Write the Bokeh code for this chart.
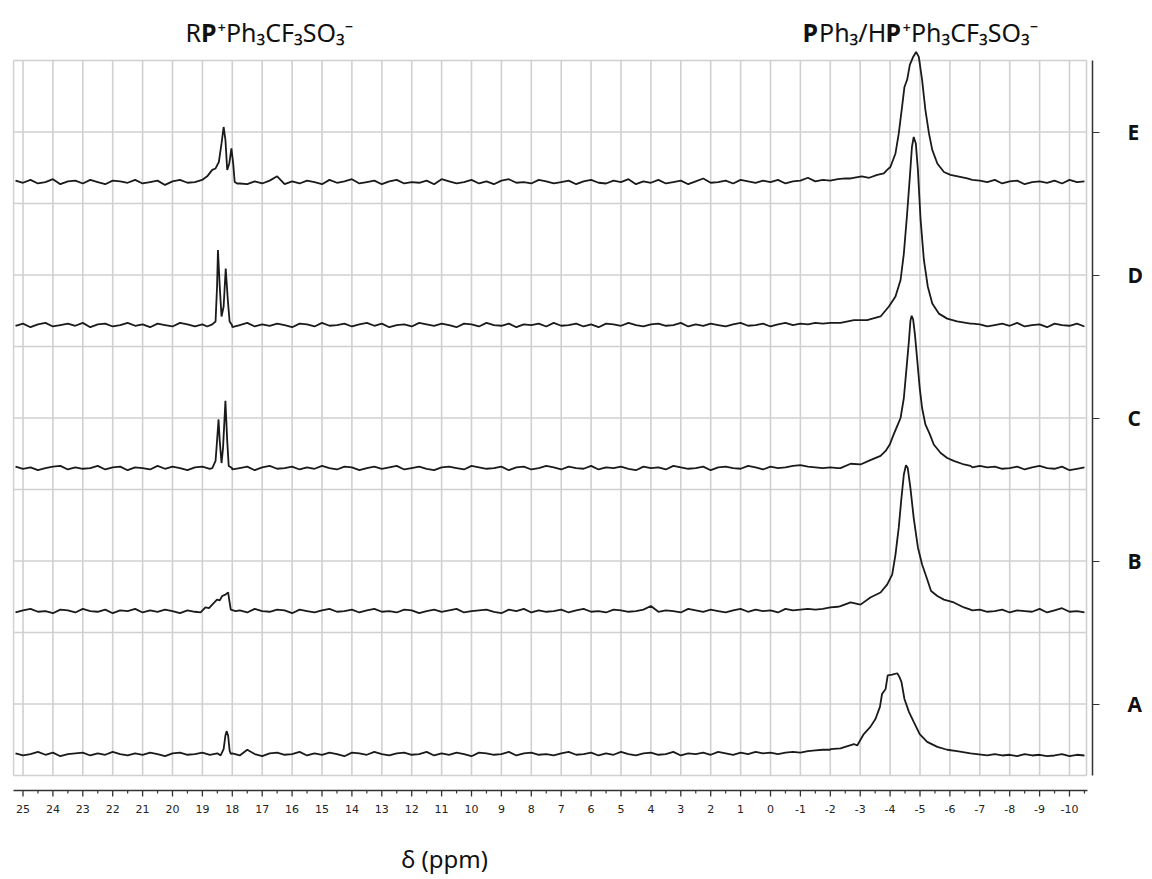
from bokeh.plotting import figure
from bokeh.models import Range1d, Label, FixedTicker
from bokeh.core.properties import value
from bokeh.embed import file_html
from bokeh.resources import INLINE

# ---------------- data (chemical shift in ppm, intensity in 1/100 of a grid step) -------------
SPECTRA = ["A", "B", "C", "D", "E"]

GRID_PPM = [
    25.25, 25.0, 24.75, 24.5, 24.25, 24.0, 23.75, 23.5, 23.25, 23.0, 22.75, 22.5,
    22.25, 22.0, 21.75, 21.5, 21.25, 21.0, 20.75, 20.5, 20.25, 20.0, 19.75, 19.5,
    19.25, 19.0, 18.75, 18.5, 18.25, 18.0, 17.75, 17.5, 17.25, 17.0, 16.75, 16.5,
    16.25, 16.0, 15.75, 15.5, 15.25, 15.0, 14.75, 14.5, 14.25, 14.0, 13.75, 13.5,
    13.25, 13.0, 12.75, 12.5, 12.25, 12.0, 11.75, 11.5, 11.25, 11.0, 10.75, 10.5,
    10.25, 10.0, 9.75, 9.5, 9.25, 9.0, 8.75, 8.5, 8.25, 8.0, 7.75, 7.5,
    7.25, 7.0, 6.75, 6.5, 6.25, 6.0, 5.75, 5.5, 5.25, 5.0, 4.75, 4.5,
    4.25, 4.0, 3.75, 3.5, 3.25, 3.0, 2.75, 2.5, 2.25, 2.0, 1.75, 1.5,
    1.25, 1.0, 0.75, 0.5, 0.25, 0.0, -0.25, -0.5, -0.75, -1.0, -1.25, -1.5,
    -1.75, -2.0, -2.25, -2.5, -2.75, -3.0, -3.25, -3.5, -3.75, -4.0, -4.25, -4.5,
    -4.75, -5.0, -5.25, -5.5, -5.75, -6.0, -6.25, -6.5, -6.75, -7.0, -7.25, -7.5,
    -7.75, -8.0, -8.25, -8.5, -8.75, -9.0, -9.25, -9.5, -9.75, -10.0, -10.25, -10.5,
]

E_NOISE = [
    2, -1, 3, -2, 0, 4, -3, 1, 2, -2, 3, 0,
    -3, 2, 1, -1, 3, -2, 0, 2, -4, 1, 3, -1,
    0, 1, 3, 6, 0, 0, -2, -3, 1, -2, 2, 8,
    -3, 1, -2, 2, 0, -3, 3, -1, 1, 4, -2, 0,
    2, -3, 1, 3, -2, 0, -1, 2, -3, 4, 1, -2,
    0, 3, -2, 1, -3, 2, 4, -1, 0, -2, 3, 1,
    -2, 0, 2, -3, 1, 3, -1, -2, 2, 0, 4, -3,
    1, -1, 3, -2, 0, 2, -3, 1, 5, -1, 0, 2,
    -2, 3, 1, -1, 2, 0, 3, -2, 1, 2, 6, 1,
    3, 2, 4, 5, 0, 0, 0, 0, 0, 0, 0, 0,
    0, 0, 0, 0, 0, 0, 0, 0, 3, 2, 0, 3,
    -2, 1, 2, -3, 0, 1, -1, 2, -2, 3, 0, 1,
]
D_NOISE = [
    -1, 2, -3, 1, 3, -2, 0, 2, -1, 3, -3, 1,
    2, -2, 0, 3, -1, 1, -3, 2, 0, -2, 3, 1,
    -2, 1, -1, 0, 2, -3, 0, 3, -2, 1, -1, 2,
    0, -3, 2, 1, -2, 3, -1, 0, 2, -2, 1, 3,
    -1, 2, -3, 0, 1, -2, 3, 1, -1, 2, 0, -3,
    2, 1, -2, 3, 0, -1, 2, -3, 1, 0, 2, -2,
    3, -1, 0, 2, -2, 1, -3, 2, 1, -1, 3, 0,
    -2, 1, 2, -1, 0, 3, -2, 1, -1, 2, 0, -2,
    1, 3, -1, 0, 2, -2, 1, 3, 0, 2, 1, 3,
    2, 3, 3, 0, 0, 0, 0, 0, 0, 0, 0, 0,
    0, 0, 0, 0, 0, 0, 0, 0, 2, 1, -2, 0,
    2, -1, 3, -2, 0, 1, -3, 2, 0, -1, 2, -2,
]
C_NOISE = [
    2, -1, 1, -3, 0, 2, 3, -2, 1, -1, 0, 3,
    -2, 1, 2, -3, 1, 0, -2, 3, -1, 2, 0, -3,
    1, 2, -1, 0, 1, -2, 0, 2, -3, 1, 3, -1,
    0, 2, -2, 1, -1, 3, 0, -2, 2, 1, -3, 0,
    2, -1, 1, 3, -2, 0, 2, -1, -3, 1, 2, 0,
    -2, 3, 1, -1, 0, 2, -3, 1, 2, -2, 0, 3,
    1, -2, 2, 0, -1, 3, -2, 1, 0, 2, -1, -3,
    2, 0, 1, -2, 3, 1, -1, 0, 2, -3, 1, 2,
    0, -1, 3, 1, -2, 2, 0, 1, 3, 4, 2, 1,
    0, 1, 0, 0, 0, 0, 0, 0, 0, 0, 0, 0,
    0, 0, 0, 0, 0, 0, 0, 0, 1, 3, 1, 2,
    -1, 0, 2, -2, 1, 3, 0, -1, 2, -3, -1, 1,
]
B_NOISE = [
    -2, 1, 3, -1, 0, -3, 2, 1, -2, 3, 0, -1,
    2, -3, 1, 0, 3, -2, 1, -1, 2, 0, -3, 1,
    -1, 0, 0, 0, 0, 0, 1, -2, 3, 0, -1, 2,
    1, -3, 2, 0, -2, 1, 3, -1, 0, 2, -2, 1,
    3, -1, 0, -2, 2, 1, -3, 0, 2, -1, 1, 3,
    -2, 0, 1, 2, -1, -3, 2, 0, 3, -2, 1, -1,
    0, 2, -2, 1, 3, -1, 0, -2, 2, 1, -1, 0,
    2, 7, -1, 1, 0, -2, 3, 1, -1, 2, 0, -2,
    1, 3, -1, 2, 0, 1, -2, 3, 1, 2, 3, 2,
    3, 5, 6, 0, 0, 0, 0, 0, 0, 0, 0, 0,
    0, 0, 0, 0, 0, 0, 0, 0, 1, 2, -1, 0,
    2, -2, 1, 0, -1, 3, -2, 1, 4, -1, 0, -2,
]
A_NOISE = [
    1, -2, 0, 3, -1, 2, -3, 0, 1, 2, -2, 1,
    -1, 3, 0, -2, 1, -1, 2, 0, -3, 1, 2, -1,
    0, 2, -1, 1, 0, 1, -2, 6, 0, -3, 1, 2,
    -1, 0, 3, -2, 1, -1, 2, 0, -3, 2, 1, -1,
    3, 0, -2, 1, 2, -1, 0, 3, -2, 1, -1, 2,
    0, -3, 2, 1, -1, 0, 3, -2, 1, 2, -1, 0,
    -2, 1, 3, -1, 0, 2, -2, 1, -1, 3, 0, -2,
    1, 2, -1, 0, 3, -2, 1, 0, 2, -1, 3, 1,
    -1, 2, 0, 3, 1, 2, 0, 2, 3, 2, 4, 5,
    6, 6, 0, 0, 0, 0, 0, 0, 0, 0, 0, 0,
    0, 0, 0, 0, 0, 0, 0, 0, 0, 0, 0, 0,
    -2, -1, -3, 0, -2, -1, -3, -2, 0, -3, -1, -2,
]

# RP+Ph3 signal (~18.3 ppm)
E_SMALL_PPM = [19.01, 18.84, 18.67, 18.56, 18.45, 18.36, 18.29, 18.23, 18.17, 18.10, 18.03, 17.97, 17.92, 17.84]
E_SMALL_VAL = [3, 8, 17, 19, 28, 54, 77, 59, 17, 26, 47, 26, 0, -2]
D_SMALL_PPM = [18.84, 18.67, 18.56, 18.51, 18.48, 18.42, 18.36, 18.29, 18.22, 18.15, 18.09, 18.01]
D_SMALL_VAL = [-2, 1, 5, 54, 105, 54, 12, 26, 79, 35, 5, 0]
C_SMALL_PPM = [18.67, 18.56, 18.51, 18.46, 18.42, 18.36, 18.31, 18.23, 18.17, 18.12, 18.01]
C_SMALL_VAL = [0, 10, 38, 68, 38, 7, 28, 94, 38, 3, 0]
B_SMALL_PPM = [19.06, 18.90, 18.78, 18.67, 18.60, 18.51, 18.42, 18.34, 18.23, 18.14, 18.09, 18.05, 17.89]
B_SMALL_VAL = [-2, 5, 4, 9, 12, 16, 15, 21, 23, 26, 12, 2, 0]
A_SMALL_PPM = [18.39, 18.29, 18.23, 18.19, 18.14, 18.09, 18.05]
A_SMALL_VAL = [-2, 7, 26, 32, 26, 5, 0]

# PPh3 / HP+Ph3 signal (~ -4.7 ppm)
E_BIG_PPM = [-2.68, -3.05, -3.30, -3.57, -3.79, -3.90, -4.01, -4.18, -4.29, -4.40, -4.48, -4.57, -4.66,
             -4.77, -4.87, -4.96, -5.07, -5.18, -5.30, -5.41, -5.58, -5.80, -6.02, -6.58]
E_BIG_VAL = [5, 8, 6, 10, 12, 17, 21, 40, 68, 105, 133, 143, 164,
             175, 182, 175, 143, 101, 68, 45, 26, 14, 10, 5]
D_BIG_PPM = [-2.34, -2.79, -3.23, -3.68, -3.96, -4.18, -4.35, -4.46, -4.57, -4.66, -4.73, -4.79, -4.86,
             -4.93, -5.02, -5.13, -5.26, -5.41, -5.63, -5.91, -6.24, -6.69]
D_BIG_VAL = [3, 7, 7, 12, 26, 40, 63, 100, 156, 207, 249, 263, 254,
             217, 147, 91, 54, 30, 16, 9, 5, 2]
C_BIG_PPM = [-2.34, -2.68, -3.01, -3.34, -3.68, -3.85, -3.99, -4.12, -4.24, -4.35, -4.46, -4.55, -4.63, -4.68,
             -4.72, -4.77, -4.83, -4.91, -4.99, -5.07, -5.18, -5.33, -5.46, -5.69, -5.91, -6.13, -6.47, -6.69]
C_BIG_VAL = [0, 6, 5, 11, 17, 24, 33, 47, 59, 70, 98, 140, 178, 206,
             213, 208, 187, 150, 112, 84, 61, 47, 33, 21, 14, 10, 5, 3]
B_BIG_PPM = [-2.34, -2.68, -3.01, -3.34, -3.68, -3.90, -4.07, -4.18, -4.29, -4.37, -4.46, -4.53, -4.59,
             -4.68, -4.79, -4.93, -5.07, -5.22, -5.37, -5.58, -5.80, -6.13, -6.47, -6.69]
B_BIG_VAL = [7, 12, 9, 19, 26, 37, 51, 79, 117, 154, 191, 204, 200,
             172, 130, 89, 65, 47, 28, 21, 16, 12, 5, 2]
A_BIG_PPM = [-2.01, -2.34, -2.79, -2.90, -3.12, -3.34, -3.51, -3.66, -3.73, -3.85, -3.92, -4.07, -4.24,
             -4.31, -4.38, -4.48, -4.63, -4.79, -4.99, -5.24, -5.58, -5.91, -6.24, -6.69, -7.25]
A_BIG_VAL = [7, 8, 14, 12, 28, 38, 49, 66, 84, 91, 110, 111, 113,
             108, 101, 77, 59, 45, 28, 17, 10, 6, 4, 1, -2]

X_TICK_MIN, X_TICK_MAX = -10, 25
TOP_LABEL_LEFT = "R|P|⁺Ph₃CF₃SO₃⁻"
TOP_LABEL_RIGHT = "P|Ph₃/H|P|⁺Ph₃CF₃SO₃⁻"
X_LABEL = "δ (ppm)"

# ---------------- assemble traces ----------------
NOISE = {"A": A_NOISE, "B": B_NOISE, "C": C_NOISE, "D": D_NOISE, "E": E_NOISE}
PEAKS = {
    "A": [(A_SMALL_PPM, A_SMALL_VAL), (A_BIG_PPM, A_BIG_VAL)],
    "B": [(B_SMALL_PPM, B_SMALL_VAL), (B_BIG_PPM, B_BIG_VAL)],
    "C": [(C_SMALL_PPM, C_SMALL_VAL), (C_BIG_PPM, C_BIG_VAL)],
    "D": [(D_SMALL_PPM, D_SMALL_VAL), (D_BIG_PPM, D_BIG_VAL)],
    "E": [(E_SMALL_PPM, E_SMALL_VAL), (E_BIG_PPM, E_BIG_VAL)],
}


def build(name):
    pts = []
    for ppm, v in zip(GRID_PPM, NOISE[name]):
        if any(min(pp) <= ppm <= max(pp) for pp, _ in PEAKS[name]):
            continue
        pts.append((ppm, v))
    for pp, vv in PEAKS[name]:
        pts += list(zip(pp, vv))
    pts.sort(key=lambda t: -t[0])
    return [t[0] for t in pts], [t[1] for t in pts]


# ---------------- geometry helpers (page pixels -> data) ----------------
PX_PER_PPM = 29.9
PX_ZERO_PPM = 770.0
PX_PER_UNIT = 0.715
PX_ZERO_Y = 775.0


def ppm_at(px):
    return (PX_ZERO_PPM - px) / PX_PER_PPM


def y_at(px):
    return (PX_ZERO_Y - px) / PX_PER_UNIT


FRAME_L, FRAME_R, FRAME_T, FRAME_B = 12, 1092, 0, 876
BOX_LEFT, BOX_RIGHT = ppm_at(13), ppm_at(1086)
STEP = 100
BOX_TOP = 1000

p = figure(
    frame_width=FRAME_R - FRAME_L, frame_height=FRAME_B - FRAME_T,
    x_range=Range1d(ppm_at(FRAME_L), ppm_at(FRAME_R)),
    y_range=Range1d(y_at(FRAME_B), y_at(FRAME_T)),
    output_backend="svg", toolbar_location=None, y_axis_location="right",
    min_border_left=FRAME_L, min_border_top=FRAME_T, min_border_right=52, min_border_bottom=0,
)
p.outline_line_color = None
p.xgrid.visible = False
p.ygrid.visible = False
p.xaxis.visible = False
p.background_fill_color = "white"
p.border_fill_color = "white"

GRID_COLOR = "#d0d0d0"
vx = list(range(X_TICK_MIN, X_TICK_MAX + 1))
p.segment(x0=vx, y0=[0] * len(vx), x1=vx, y1=[BOX_TOP] * len(vx), line_color=GRID_COLOR, line_width=1.6)
hy = list(range(0, BOX_TOP + 1, STEP))
p.segment(x0=[BOX_LEFT] * len(hy), y0=hy, x1=[BOX_RIGHT] * len(hy), y1=hy, line_color=GRID_COLOR, line_width=1.6)
p.segment(x0=[BOX_LEFT, BOX_RIGHT], y0=[0, 0], x1=[BOX_LEFT, BOX_RIGHT], y1=[BOX_TOP, BOX_TOP],
          line_color=GRID_COLOR, line_width=1.6)

for k, name in enumerate(SPECTRA):
    xs, ys = build(name)
    offset = 30 + 2 * STEP * k
    p.line(xs, [y + offset for y in ys], line_color="#1a1a1a", line_width=1.8)

# ---------------- bottom ruler (drawn from the tick list) ----------------
RULER_COLOR = "#333333"
ry = y_at(790)
p.segment(x0=[BOX_LEFT], y0=[ry], x1=[ppm_at(1087)], y1=[ry], line_color=RULER_COLOR, line_width=1.5)
major = list(range(X_TICK_MIN, X_TICK_MAX + 1))
minor = [t + 0.5 for t in range(X_TICK_MIN - 1, X_TICK_MAX)]
p.segment(x0=major, y0=[ry] * len(major), x1=major, y1=[y_at(796)] * len(major),
          line_color=RULER_COLOR, line_width=1.3)
p.segment(x0=minor, y0=[ry] * len(minor), x1=minor, y1=[y_at(793)] * len(minor),
          line_color=RULER_COLOR, line_width=1.2)
p.text(x=major, y=[y_at(808)] * len(major), text=[str(t) for t in major],
       text_font=value("DejaVu Sans"), text_font_size="11px", text_color="#222222",
       text_align="center", text_baseline="middle")

p.add_layout(Label(x=ppm_at(444), y=y_at(858), text=X_LABEL, text_font="Noto Sans",
                   text_font_size="24px", text_color="#111111", text_align="center",
                   text_baseline="middle"))

# ---------------- right axis with spectrum letters ----------------
ya = p.yaxis[0]
ya.ticker = FixedTicker(ticks=[STEP * (2 * k + 1) for k in range(len(SPECTRA))])
ya.major_label_overrides = {STEP * (2 * k + 1): s for k, s in enumerate(SPECTRA)}
ya.bounds = (0, BOX_TOP)
ya.axis_line_color = RULER_COLOR
ya.axis_line_width = 1.5
ya.major_tick_line_color = RULER_COLOR
ya.major_tick_out = 7
ya.major_tick_in = 0
ya.minor_tick_line_color = None
ya.major_label_text_font = "Open Sans"
ya.major_label_text_font_style = "bold"
ya.major_label_text_font_size = "21px"
ya.major_label_text_color = "#111111"
ya.major_label_standoff = 28


def add_rich(parts_str, start_px, offsets, bold_idx):
    parts = parts_str.split("|")
    for i, (t, off) in enumerate(zip(parts, offsets)):
        p.add_layout(Label(
            x=ppm_at(start_px), y=y_at(31), x_offset=off, text=t,
            text_font="Noto Sans", text_font_size="25px",
            text_font_style="bold" if i in bold_idx else "normal",
            text_color="#111111", text_align="left", text_baseline="middle",
        ))


add_rich(TOP_LABEL_LEFT, 185, [0, 15.5, 32], {1})
add_rich(TOP_LABEL_RIGHT, 802, [0, 16.5, 83, 100], {0, 2})

open("out.html", "w").write(file_html(p, INLINE))
